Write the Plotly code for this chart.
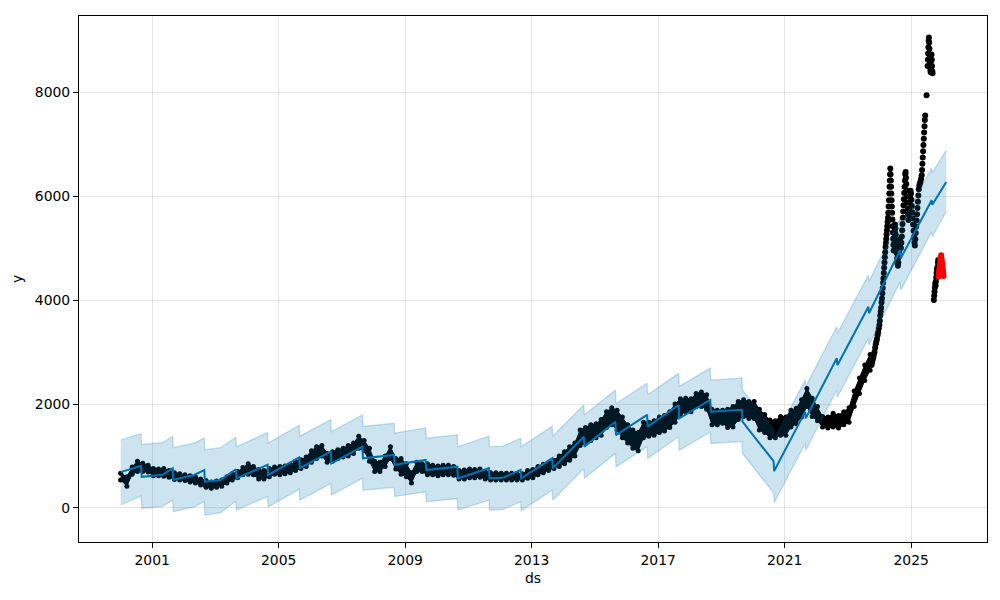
import plotly.graph_objects as go

# ---------------- observed history (bi-monthly band: low / high edge of the dot cloud) -------------
obs_dates = [
    "2000-01-03", "2000-03-15", "2000-05-15", "2000-07-15", "2000-09-15", "2000-11-15",
    "2001-01-15", "2001-03-15", "2001-05-15", "2001-07-15", "2001-09-15", "2001-11-15",
    "2002-01-15", "2002-03-15", "2002-05-15", "2002-07-15", "2002-09-15", "2002-11-15",
    "2003-01-15", "2003-03-15", "2003-05-15", "2003-07-15", "2003-09-15", "2003-11-15",
    "2004-01-15", "2004-03-15", "2004-05-15", "2004-07-15", "2004-09-15", "2004-11-15",
    "2005-01-15", "2005-03-15", "2005-05-15", "2005-07-15", "2005-09-15", "2005-11-15",
    "2006-01-15", "2006-03-15", "2006-05-15", "2006-07-15", "2006-09-15", "2006-11-15",
    "2007-01-15", "2007-03-15", "2007-05-15", "2007-07-15", "2007-09-15", "2007-11-15",
    "2008-01-15", "2008-03-15", "2008-05-15", "2008-07-15", "2008-09-15", "2008-11-15",
    "2009-01-15", "2009-03-15", "2009-05-15", "2009-07-15", "2009-09-15", "2009-11-15",
    "2010-01-15", "2010-03-15", "2010-05-15", "2010-07-15", "2010-09-15", "2010-11-15",
    "2011-01-15", "2011-03-15", "2011-05-15", "2011-07-15", "2011-09-15", "2011-11-15",
    "2012-01-15", "2012-03-15", "2012-05-15", "2012-07-15", "2012-09-15", "2012-11-15",
    "2013-01-15", "2013-03-15", "2013-05-15", "2013-07-15", "2013-09-15", "2013-11-15",
    "2014-01-15", "2014-03-15", "2014-05-15", "2014-07-15", "2014-09-15", "2014-11-15",
    "2015-01-15", "2015-03-15", "2015-05-15", "2015-07-15", "2015-09-15", "2015-11-15",
    "2016-01-15", "2016-03-15", "2016-05-15", "2016-07-15", "2016-09-15", "2016-11-15",
    "2017-01-15", "2017-03-15", "2017-05-15", "2017-07-15", "2017-09-15", "2017-11-15",
    "2018-01-15", "2018-03-15", "2018-05-15", "2018-07-15", "2018-09-15", "2018-11-15",
    "2019-01-15", "2019-03-15", "2019-05-15", "2019-07-15", "2019-09-15", "2019-11-15",
    "2020-01-15", "2020-03-15", "2020-05-15", "2020-07-15", "2020-09-15", "2020-11-15",
    "2021-01-15", "2021-03-15", "2021-05-15", "2021-07-15", "2021-09-15", "2021-11-15",
    "2022-01-15", "2022-03-15", "2022-05-15", "2022-07-15", "2022-09-15", "2022-11-15",
    "2023-01-15", "2023-03-15", "2023-05-15", "2023-07-15", "2023-09-15",
]
obs_low = [
    540, 420, 650, 700, 700, 690,
    620, 620, 610, 590, 550, 540,
    530, 500, 480, 440, 400, 380,
    400, 420, 480, 540, 580, 640,
    650, 640, 560, 560, 600, 650,
    640, 660, 680, 720, 760, 800,
    880, 950, 1000, 880, 900, 950,
    980, 1000, 1050, 1150, 1100, 900,
    700, 700, 800, 950, 750, 650,
    600, 480, 700, 700, 640, 640,
    620, 640, 640, 630, 560, 560,
    580, 580, 590, 560, 540, 540,
    540, 540, 540, 540, 540, 570,
    580, 640, 680, 720, 760, 800,
    850, 920, 1000, 1200, 1250, 1300,
    1350, 1400, 1550, 1600, 1500, 1350,
    1250, 1150, 1100, 1350, 1380, 1400,
    1450, 1480, 1550, 1650, 1800, 1850,
    1850, 1950, 1950, 1900, 1600, 1600,
    1630, 1550, 1560, 1700, 1760, 1720,
    1720, 1500, 1450, 1350, 1350, 1400,
    1400, 1560, 1620, 1750, 1950, 1760,
    1680, 1560, 1540, 1560, 1540, 1600,
    1650, 1950, 2200, 2450, 2650,
]
obs_high = [
    670, 600, 790, 900, 860, 820,
    760, 750, 760, 720, 680, 660,
    640, 620, 600, 560, 530, 500,
    520, 540, 600, 660, 700, 780,
    850, 800, 740, 720, 760, 790,
    800, 810, 830, 900, 930, 980,
    1100, 1180, 1200, 1050, 1080, 1120,
    1150, 1200, 1250, 1380, 1300, 1150,
    900, 880, 1000, 1180, 950, 950,
    850, 680, 880, 850, 850, 820,
    810, 820, 820, 800, 720, 730,
    750, 740, 750, 700, 680, 680,
    670, 670, 670, 660, 660, 720,
    740, 800, 840, 880, 920, 1000,
    1080, 1180, 1250, 1500, 1550, 1600,
    1620, 1700, 1850, 1930, 1880, 1750,
    1600, 1500, 1450, 1650, 1650, 1680,
    1750, 1780, 1850, 2000, 2100, 2110,
    2100, 2200, 2230, 2180, 1900, 1880,
    1880, 1900, 1950, 2050, 2080, 2050,
    2050, 1900, 1800, 1690, 1680, 1760,
    1750, 1880, 1920, 2080, 2300, 2110,
    1950, 1760, 1750, 1820, 1780, 1850,
    1930, 2250, 2500, 2750, 2950,
]

# ---------------- observed history, volatile recent period (individual points) ----------------
recent_dates = [
    "2023-10-01", "2023-10-08", "2023-10-15", "2023-10-22", "2023-10-29", "2023-11-05",
    "2023-11-12", "2023-11-19", "2023-11-26", "2023-12-03", "2023-12-10", "2023-12-17",
    "2023-12-24", "2023-12-31", "2024-01-05", "2024-01-10", "2024-01-15", "2024-01-20",
    "2024-01-25", "2024-01-30", "2024-02-04", "2024-02-08", "2024-02-12", "2024-02-16",
    "2024-02-20", "2024-02-24", "2024-02-28", "2024-03-03", "2024-03-07", "2024-03-11",
    "2024-03-15", "2024-03-19", "2024-03-23", "2024-03-27", "2024-03-31", "2024-04-04",
    "2024-04-08", "2024-04-12", "2024-04-16", "2024-04-20", "2024-04-24", "2024-04-27",
    "2024-04-30", "2024-05-03", "2024-05-05", "2024-05-08", "2024-05-11", "2024-05-14",
    "2024-05-17", "2024-05-20", "2024-05-23", "2024-05-26", "2024-05-29", "2024-06-01",
    "2024-06-04", "2024-06-07", "2024-06-10", "2024-06-13", "2024-06-17", "2024-06-21",
    "2024-06-25", "2024-06-29", "2024-07-03", "2024-07-07", "2024-07-11", "2024-07-15",
    "2024-07-19", "2024-07-23", "2024-07-27", "2024-08-01", "2024-08-06", "2024-08-11",
    "2024-08-16", "2024-08-21", "2024-08-26", "2024-08-31", "2024-09-05", "2024-09-10",
    "2024-09-15", "2024-09-19", "2024-09-23", "2024-09-27", "2024-10-01", "2024-10-05",
    "2024-10-09", "2024-10-13", "2024-10-17", "2024-10-21", "2024-10-25", "2024-10-29",
    "2024-11-02", "2024-11-06", "2024-11-10", "2024-11-14", "2024-11-18", "2024-11-22",
    "2024-11-26", "2024-11-30", "2024-12-05", "2024-12-10", "2024-12-15", "2024-12-20",
    "2024-12-25", "2024-12-30", "2025-01-04", "2025-01-09", "2025-01-14", "2025-01-19",
    "2025-01-24", "2025-01-29", "2025-02-03", "2025-02-08", "2025-02-13", "2025-02-18",
    "2025-02-23", "2025-02-28", "2025-03-05", "2025-03-10", "2025-03-15", "2025-03-20",
    "2025-03-25", "2025-03-30", "2025-04-05", "2025-04-12", "2025-04-19", "2025-04-26",
    "2025-05-03", "2025-05-07", "2025-05-11", "2025-05-15", "2025-05-19", "2025-05-23",
    "2025-05-27", "2025-05-31", "2025-06-04", "2025-06-08", "2025-06-12", "2025-06-28",
    "2025-07-10", "2025-07-13", "2025-07-16", "2025-07-19", "2025-07-22", "2025-07-25",
    "2025-07-28", "2025-07-31", "2025-08-03", "2025-08-06", "2025-08-09", "2025-08-12",
    "2025-08-15", "2025-08-18", "2025-08-21", "2025-08-24", "2025-08-27", "2025-08-30",
    "2025-09-02", "2025-09-05", "2025-09-20", "2025-09-24", "2025-09-28", "2025-10-02",
    "2025-10-06", "2025-10-10", "2025-10-14", "2025-10-18", "2025-10-22", "2025-10-26",
    "2025-10-30", "2025-11-03", "2025-11-07", "2025-11-10",
]
recent_y = [
    2750, 2800, 2850, 2900, 2950, 3000,
    3080, 3150, 3200, 3250, 3320, 3380,
    3450, 3520, 3600, 3700, 3780, 3850,
    3950, 4030, 4130, 4230, 4330, 4420,
    4520, 4620, 4720, 4820, 4920, 5020,
    5100, 5180, 5260, 5340, 5420, 5500,
    5580, 5680, 5800, 5920, 6050, 6180,
    6300, 6420, 6530, 6420, 6300, 6180,
    6050, 5920, 5800, 5680, 5550, 5420,
    5300, 5180, 5060, 4950, 5080, 5200,
    5320, 5450, 5380, 5260, 5140, 5020,
    4900, 4800, 4700, 4660, 4720, 4820,
    4930, 5050, 5170, 5100, 5000, 5100,
    5220, 5340, 5460, 5580, 5700, 5820,
    5940, 6060, 6180, 6300, 6420, 6460,
    6350, 6230, 6110, 5990, 5870, 5750,
    5640, 5540, 5640, 5760, 5880, 6000,
    6100, 6050, 5930, 5810, 5690, 5570,
    5450, 5330, 5210, 5100, 5050, 5170,
    5290, 5410, 5530, 5650, 5770, 5890,
    6010, 6130, 6200, 6240, 6280, 6330,
    6400, 6500, 6620, 6740, 6860, 6980,
    7100, 7220, 7340, 7460, 7550, 7940,
    8500, 8620, 8740, 8860, 8980, 9050,
    8950, 8830, 8710, 8600, 8500, 8420,
    8380, 8480, 8600, 8720, 8620, 8500,
    8400, 8360, 4000, 4080, 4160, 4240,
    4320, 4280, 4360, 4440, 4520, 4600,
    4560, 4640, 4720, 4770,
]

# ---------------- held-out actuals (red) ----------------
test_dates = ["2025-11-12", "2025-11-16", "2025-11-20", "2025-11-24", "2025-11-28",
              "2025-12-02", "2025-12-06", "2025-12-10", "2025-12-14", "2025-12-18",
              "2025-12-22", "2025-12-26", "2025-12-30", "2026-01-03", "2026-01-07",
              "2026-01-11"]
test_y = [4450, 4500, 4560, 4600, 4650, 4700, 4760, 4820, 4860, 4800,
          4750, 4700, 4640, 4580, 4520, 4460]

# ---------------- forecast ----------------
fc_dates = [
    "2000-01-03", "2000-08-26", "2000-09-02",
    "2001-05-01", "2001-08-26", "2001-09-02",
    "2002-05-01", "2002-08-26", "2002-09-02",
    "2003-03-01", "2003-08-26", "2003-09-02",
    "2004-08-26", "2004-09-02",
    "2005-08-26", "2005-09-02",
    "2006-08-26", "2006-09-02",
    "2007-08-26", "2007-09-02",
    "2008-08-26", "2008-09-02",
    "2009-08-26", "2009-09-02",
    "2010-08-26", "2010-09-02",
    "2011-08-26", "2011-09-02",
    "2012-02-01", "2012-08-26", "2012-09-02",
    "2013-08-26", "2013-09-02",
    "2014-08-26", "2014-09-02",
    "2015-08-26", "2015-09-02",
    "2016-08-26", "2016-09-02",
    "2017-08-26", "2017-09-02",
    "2018-08-26", "2018-09-02",
    "2019-08-26", "2019-09-02",
    "2020-08-26", "2020-09-02",
    "2021-08-26", "2021-09-02",
    "2022-08-26", "2022-09-02",
    "2023-08-26", "2023-09-02",
    "2024-08-26", "2024-09-02",
    "2025-08-26", "2025-09-02",
    "2026-02-10",
]
yhat = [
    690, 810, 600,
    640, 765, 545,
    635, 730, 505,
    540, 745, 570,
    830, 635,
    975, 765,
    1085, 860,
    1180, 955,
    1020, 830,
    925, 730,
    795, 570,
    765, 570,
    580, 730, 570,
    955, 765,
    1370, 1180,
    1660, 1400,
    1790, 1565,
    1980, 1725,
    2077, 1853,
    1890, 1660,
    900, 710,
    1853, 1725,
    2880, 2745,
    3870, 3745,
    4960, 4800,
    5920, 5830,
    6270,
]
yhat_lower = [
    60, 230, -10,
    30, 150, -70,
    20, 120, -140,
    -90, 130, -40,
    220, 20,
    360, 150,
    470, 250,
    570, 340,
    400, 220,
    310, 120,
    180, -40,
    150, -40,
    -30, 120, -50,
    340, 150,
    760, 570,
    1050, 790,
    1180, 950,
    1370, 1110,
    1460, 1240,
    1280, 1050,
    290, 100,
    1240, 1110,
    2270, 2130,
    3260, 3130,
    4350, 4190,
    5310, 5220,
    5700,
]
yhat_upper = [
    1310, 1430, 1220,
    1260, 1380, 1160,
    1250, 1350, 1120,
    1160, 1360, 1180,
    1450, 1250,
    1590, 1380,
    1700, 1470,
    1790, 1570,
    1630, 1440,
    1540, 1340,
    1410, 1180,
    1380, 1180,
    1190, 1340, 1180,
    1570, 1380,
    1980, 1790,
    2270, 2010,
    2400, 2180,
    2590, 2340,
    2690, 2460,
    2500, 2270,
    1520, 1320,
    2460, 2340,
    3490, 3360,
    4480, 4360,
    5570, 5420,
    6540, 6450,
    6880,
]

# ---------------- axes ----------------
x_tick_vals = ["2001-01-01", "2005-01-01", "2009-01-01", "2013-01-01",
               "2017-01-01", "2021-01-01", "2025-01-01"]
x_tick_text = ["2001", "2005", "2009", "2013", "2017", "2021", "2025"]
y_tick_vals = [0, 2000, 4000, 6000, 8000]
y_tick_text = ["0", "2000", "4000", "6000", "8000"]

BLUE = "#0072B2"
BAND = "rgba(0,114,178,0.2)"
FONT = "DejaVu Sans"

fig = go.Figure()

# observed band (dense daily dots appear as a solid black ribbon)
fig.add_trace(go.Scatter(x=obs_dates, y=obs_low, mode="lines+markers",
                         line=dict(color="black", width=1),
                         marker=dict(color="black", size=5, line=dict(width=0)),
                         hoverinfo="skip", showlegend=False))
fig.add_trace(go.Scatter(x=obs_dates, y=obs_high, mode="lines+markers", fill="tonexty",
                         fillcolor="black", line=dict(color="black", width=1),
                         marker=dict(color="black", size=5, line=dict(width=0)),
                         hoverinfo="skip", showlegend=False))
fig.add_trace(go.Scatter(x=recent_dates, y=recent_y, mode="markers",
                         marker=dict(color="black", size=6, line=dict(width=0)), showlegend=False))

# forecast line
fig.add_trace(go.Scatter(x=fc_dates, y=yhat, mode="lines",
                         line=dict(color=BLUE, width=2), showlegend=False))
# uncertainty band
fig.add_trace(go.Scatter(x=fc_dates, y=yhat_lower, mode="lines",
                         line=dict(color=BAND, width=1.4), showlegend=False))
fig.add_trace(go.Scatter(x=fc_dates, y=yhat_upper, mode="lines", fill="tonexty",
                         fillcolor=BAND, line=dict(color=BAND, width=1.4), showlegend=False))

# held-out actuals
fig.add_trace(go.Scatter(x=test_dates, y=test_y, mode="markers",
                         marker=dict(color="red", size=6, line=dict(width=0)), showlegend=False))

axis_common = dict(
    showline=True, linecolor="black", linewidth=1.1, mirror=True,
    ticks="outside", ticklen=5, tickwidth=1.1, tickcolor="black",
    showgrid=True, gridcolor="rgba(128,128,128,0.2)", gridwidth=1.4,
    zeroline=False, tickfont=dict(family=FONT, size=13.9, color="black"),
    title_font=dict(family=FONT, size=13.9, color="black"),
)

fig.update_layout(
    width=1000, height=600,
    margin=dict(l=79, r=13, t=16, b=58),
    paper_bgcolor="white", plot_bgcolor="white",
    showlegend=False,
    xaxis=dict(type="date", range=["1998-09-09", "2027-05-27"],
               tickvals=x_tick_vals, ticktext=x_tick_text,
               title=dict(text="ds", standoff=6), **axis_common),
    yaxis=dict(range=[-654, 9462], tickvals=y_tick_vals, ticktext=y_tick_text,
               title=dict(text="y", standoff=8), **axis_common),
)

fig.write_html("out.html", config={"displayModeBar": False},
               post_script="document.body.style.margin='0';")
